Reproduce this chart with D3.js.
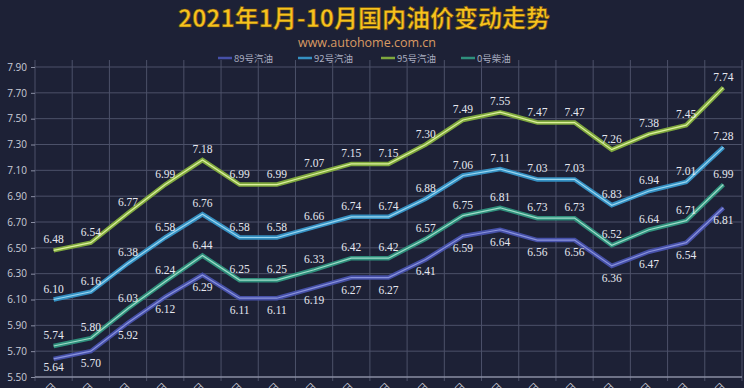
<!DOCTYPE html>
<html>
<head>
<meta charset="utf-8">
<script src="https://cdn.jsdelivr.net/npm/d3@7"></script>
<style>
  body { margin: 0; background: #1d2136; }
  svg { display: block; }
</style>
</head>
<body>
<svg width="744" height="388"></svg>
<script>
const dates = ["1月1日", "1月15日", "1月29日", "2月19日", "3月3日", "3月17日", "3月31日", "4月15日", "4月29日",
    "5月14日", "5月28日", "6月11日", "6月28日", "7月12日", "7月26日", "8月23日", "9月6日", "9月18日", "10月15日"];
const oil89 = [5.64, 5.70, 5.92, 6.12, 6.29, 6.11, 6.11, 6.19, 6.27, 6.27, 6.41, 6.59, 6.64, 6.56, 6.56, 6.36, 6.47, 6.54, 6.81];
const oil92 = [6.10, 6.16, 6.38, 6.58, 6.76, 6.58, 6.58, 6.66, 6.74, 6.74, 6.88, 7.06, 7.11, 7.03, 7.03, 6.83, 6.94, 7.01, 7.28];
const oil95 = [6.48, 6.54, 6.77, 6.99, 7.18, 6.99, 6.99, 7.07, 7.15, 7.15, 7.30, 7.49, 7.55, 7.47, 7.47, 7.26, 7.38, 7.45, 7.74];
const oil0 = [5.74, 5.80, 6.03, 6.24, 6.44, 6.25, 6.25, 6.33, 6.42, 6.42, 6.57, 6.75, 6.81, 6.73, 6.73, 6.52, 6.64, 6.71, 6.99];
const yTicks = [5.5, 5.7, 5.9, 6.1, 6.3, 6.5, 6.7, 6.9, 7.1, 7.3, 7.5, 7.7, 7.9];

const series = [
    { name: "89号汽油", values: oil89, color: "#4650a8", light: "#8a93dc", below: true },
    { name: "92号汽油", values: oil92, color: "#3590c2", light: "#9ad6f0", below: false },
    { name: "95号汽油", values: oil95, color: "#7fa83e", light: "#dcf09c", below: false },
    { name: "0号柴油", values: oil0, color: "#2f8f7c", light: "#9edcc8", below: false }
];

const svg = d3.select("svg");
const plotLeft = 35, plotRight = 742, plotTop = 67, plotBottom = 377;

const x = d3.scaleBand().domain(dates).range([plotLeft, plotRight]);
const y = d3.scaleLinear().domain([5.5, 7.9]).range([plotBottom, plotTop]);
const cx = (i) => x(dates[i]) + x.bandwidth() / 2;

// title
svg.append("text")
    .attr("x", 364).attr("y", 27)
    .attr("text-anchor", "middle")
    .attr("font-family", "Noto Sans CJK SC")
    .attr("font-weight", "bold")
    .attr("font-size", 24)
    .attr("fill", "#f7c21e")
    .attr("stroke", "#6b4a10").attr("stroke-width", 0.6)
    .text("2021年1月-10月国内油价变动走势");

svg.append("text")
    .attr("x", 367).attr("y", 47)
    .attr("text-anchor", "middle")
    .attr("font-family", "Open Sans")
    .attr("font-size", 12.5)
    .attr("fill", "#d99a63")
    .text("www.autohome.com.cn");

// grid
const grid = svg.append("g").attr("stroke", "#4c5169").attr("stroke-width", 1);
grid.selectAll(".vg")
    .data(dates.concat(["end"]))
    .enter()
    .append("line")
    .attr("x1", (d, i) => i < dates.length ? x(d) : plotRight)
    .attr("x2", (d, i) => i < dates.length ? x(d) : plotRight)
    .attr("y1", 60).attr("y2", plotBottom + 4);
grid.selectAll(".hg")
    .data(yTicks.slice(1))
    .enter()
    .append("line")
    .attr("x1", plotLeft).attr("x2", plotRight)
    .attr("y1", (d) => y(d)).attr("y2", (d) => y(d));

svg.append("line")
    .attr("x1", plotLeft).attr("x2", plotRight)
    .attr("y1", plotBottom).attr("y2", plotBottom)
    .attr("stroke", "#8a8ea3").attr("stroke-width", 1.5);

// y axis
const yAxis = svg.append("g")
    .attr("transform", `translate(${plotLeft},0)`)
    .call(d3.axisLeft(y).tickValues(yTicks).tickFormat(d3.format(".2f")).tickSize(4).tickPadding(4));
yAxis.select(".domain").remove();
yAxis.selectAll("line").attr("stroke", "#8a8ea3");
yAxis.selectAll("text")
    .attr("fill", "#c9ccd8")
    .attr("font-family", "Open Sans")
    .attr("font-size", 10);

// x axis labels (cut off at the bottom edge, as in the source image)
svg.append("g")
    .selectAll("text")
    .data(dates)
    .enter()
    .append("text")
    .attr("transform", (d, i) => `translate(${cx(i) + 3},${plotBottom + 10}) rotate(-45)`)
    .attr("text-anchor", "end")
    .attr("font-family", "Open Sans")
    .attr("font-size", 10)
    .attr("fill", "#c9ccd8")
    .text((d) => d);

// lines
const line = d3.line()
    .x((d, i) => cx(i))
    .y((d) => y(d));

series.forEach((s) => {
    const g = svg.append("g");
    g.append("path")
        .attr("d", line(s.values))
        .attr("fill", "none")
        .attr("stroke", s.color)
        .attr("stroke-width", 4.5);
    g.append("path")
        .attr("d", line(s.values))
        .attr("fill", "none")
        .attr("stroke", s.light)
        .attr("stroke-width", 1.2);
});

series.forEach((s) => {
    svg.append("g")
        .selectAll("text")
        .data(s.values)
        .enter()
        .append("text")
        .attr("x", (d, i) => cx(i))
        .attr("y", (d) => s.below ? Math.min(y(d) + 16, 371) : y(d) - 7)
        .attr("text-anchor", "middle")
        .attr("font-family", "Liberation Serif")
        .attr("font-size", 11.5)
        .attr("fill", "#e6e8f0")
        .text((d) => d.toFixed(2));
});

// legend
const legendX = [218, 298, 381, 461];
const legend = svg.append("g")
    .selectAll("g")
    .data(series)
    .enter()
    .append("g")
    .attr("transform", (d, i) => `translate(${legendX[i]},58)`);
legend.append("line")
    .attr("x1", 0).attr("x2", 14)
    .attr("stroke", (d) => d.color)
    .attr("stroke-width", 2.5);
legend.append("text")
    .attr("x", 16).attr("y", 3.5)
    .attr("font-family", "Noto Sans CJK SC")
    .attr("font-size", 9.5)
    .attr("fill", "#a9adc0")
    .text((d) => d.name);
</script>
</body>
</html>
